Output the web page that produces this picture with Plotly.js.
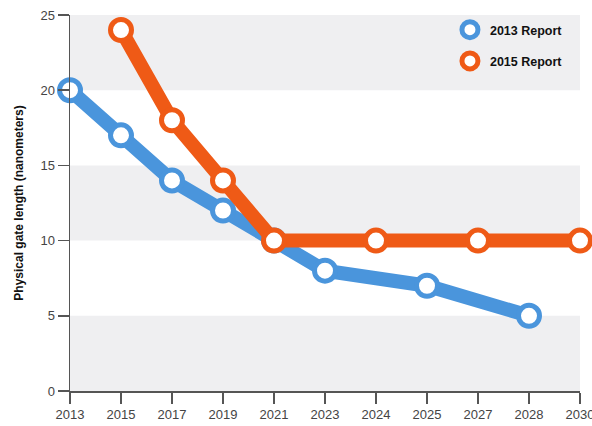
<!DOCTYPE html>
<html>
<head>
<meta charset="utf-8">
<script src="https://cdn.plot.ly/plotly-3.0.1.min.js"></script>
<style>html,body{margin:0;padding:0;background:#fff;}#chart{width:592px;height:426px;}</style>
</head>
<body>
<div id="chart"></div>
<script>
// Category labels for the x axis (evenly spaced)
var categories = ['2013','2015','2017','2019','2021','2023','2024','2025','2027','2028','2030'];

// 2013 Report
var years2013 = ['2013','2015','2017','2019','2021','2023','2025','2028'];
var values2013 = [20, 17, 14, 12, 10, 8, 7, 5];

// 2015 Report
var years2015 = ['2015','2017','2019','2021','2024','2027','2030'];
var values2015 = [24, 18, 14, 10, 10, 10, 10];

var seriesNames = ['2013 Report', '2015 Report'];
var yTicks = [0, 5, 10, 15, 20, 25];
var bands = [[0,5],[10,15],[20,25]];

var blue = '#4a95dc';
var orange = '#ef5a16';

function lineTrace(x, y, color) {
  return {
    x: x, y: y, type: 'scatter', mode: 'lines+markers',
    showlegend: false, cliponaxis: false, hoverinfo: 'skip',
    line: {color: color, width: 14},
    marker: {symbol: 'circle', size: 21, color: '#ffffff', line: {color: color, width: 5}}
  };
}
function legendTrace(name, color, group) {
  return {
    x: [null], y: [null], type: 'scatter', mode: 'markers', name: name,
    legendgroup: group, showlegend: true,
    marker: {symbol: 'circle', size: 22, color: '#ffffff', line: {color: color, width: 5}}
  };
}

var data = [
  lineTrace(years2013, values2013, blue),
  lineTrace(years2015, values2015, orange),
  legendTrace(seriesNames[0], blue, 'a'),
  legendTrace(seriesNames[1], orange, 'b')
];

var shapes = bands.map(function(b){
  return {type:'rect', xref:'paper', yref:'y', x0:0, x1:1, y0:b[0], y1:b[1],
          fillcolor:'#efeff1', line:{width:0}, layer:'below'};
});

var layout = {
  width: 592, height: 426,
  margin: {l: 70, r: 12, t: 15, b: 35},
  paper_bgcolor: '#ffffff', plot_bgcolor: '#ffffff',
  font: {family: 'Liberation Sans, Arial, sans-serif', color: '#444'},
  shapes: shapes,
  showlegend: true,
  legend: {
    x: 0.745, y: 1.0, xanchor: 'left', yanchor: 'top',
    bgcolor: 'rgba(0,0,0,0)', tracegroupgap: 12, itemsizing: 'trace',
    font: {size: 12.5, color: '#111', family: 'Liberation Sans, Arial, sans-serif', weight: 'bold'}
  },
  xaxis: {
    type: 'category', categoryorder: 'array', categoryarray: categories,
    tickvals: categories, ticktext: categories,
    range: [0, categories.length - 1],
    showgrid: false, zeroline: false,
    showline: true, linecolor: '#555', linewidth: 1.5,
    ticks: 'outside', ticklen: 11, tickwidth: 1.5, tickcolor: '#555',
    tickfont: {size: 13, color: '#444'}
  },
  yaxis: {
    range: [0, 25], tickvals: yTicks,
    showgrid: false, zeroline: false,
    showline: true, linecolor: '#555', linewidth: 1.5,
    ticks: 'outside', ticklen: 11, tickwidth: 1.5, tickcolor: '#555',
    tickfont: {size: 13, color: '#444'},
    title: {text: 'Physical gate length (nanometers)', standoff: 14,
            font: {size: 12, color: '#111', weight: 'bold'}}
  }
};

Plotly.newPlot('chart', data, layout, {displayModeBar: false, staticPlot: true});
</script>
</body>
</html>
